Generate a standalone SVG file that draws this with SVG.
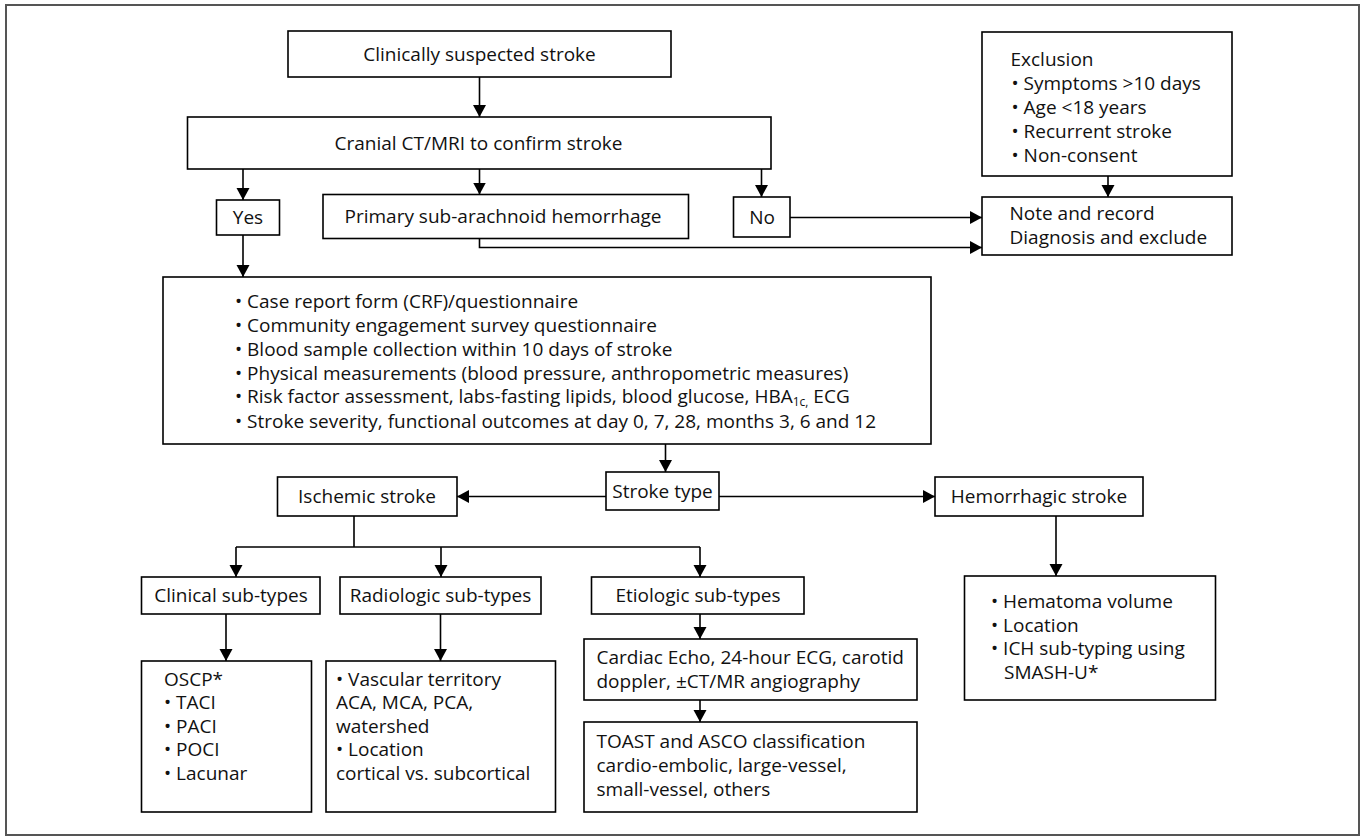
<svg xmlns="http://www.w3.org/2000/svg" width="1370" height="837" viewBox="0 0 1370 837">
<defs>
<style>
.box{fill:#fff;stroke:#000;stroke-width:1.6}
.t{font-family:'Open Sans','Noto Sans',sans-serif;font-size:19px;fill:#111}
.c{text-anchor:middle}
.ln{stroke:#000;stroke-width:1.6;fill:none}
.ar{stroke:#000;stroke-width:1.6;fill:none;marker-end:url(#ah)}
</style>
<marker id="ah" markerUnits="userSpaceOnUse" markerWidth="13" markerHeight="14" refX="12" refY="6.5" orient="auto">
<path d="M0,0 L12,6.5 L0,13 Z" fill="#000"/>
</marker>
</defs>
<rect x="0" y="0" width="1370" height="837" fill="#fff"/>
<rect id="frame" x="6" y="5" width="1353" height="830" fill="none" stroke="#555" stroke-width="2"/>

<g id="connectors">
<path class="ar" d="M479.5,77 V117"/>
<path class="ar" d="M243,169 V200"/>
<path class="ar" d="M479.5,169 V194.5"/>
<path class="ar" d="M761.5,169 V197"/>
<path class="ar" d="M243,235 V277"/>
<path class="ar" d="M790,217.5 H982"/>
<path class="ar" d="M479.5,238.5 V247.5 H982"/>
<path class="ar" d="M1108,176 V197"/>
<path class="ar" d="M665.5,444 V472"/>
<path class="ar" d="M606,496.5 H457"/>
<path class="ar" d="M719,496.5 H935"/>
<path class="ln" d="M354,516 V547 M236,547 H700"/>
<path class="ar" d="M236,547 V577"/>
<path class="ar" d="M441,547 V577"/>
<path class="ar" d="M700,547 V577"/>
<path class="ar" d="M226,614 V661"/>
<path class="ar" d="M440.5,614 V661"/>
<path class="ar" d="M700,614 V639"/>
<path class="ar" d="M700,700 V722"/>
<path class="ar" d="M1056,516 V576"/>
</g>

<g id="n-suspected">
<rect class="box" x="288" y="31" width="383" height="46"/>
<text class="t c" x="479.5" y="60.5">Clinically suspected stroke</text>
</g>
<g id="n-cranial">
<rect class="box" x="187.5" y="117" width="583.5" height="52"/>
<text class="t c" x="478.5" y="150">Cranial CT/MRI to confirm stroke</text>
</g>
<g id="n-yes">
<rect class="box" x="216.5" y="200" width="63" height="35"/>
<text class="t c" x="248" y="224">Yes</text>
</g>
<g id="n-sah">
<rect class="box" x="323" y="194.5" width="365.5" height="44"/>
<text class="t c" x="503" y="223">Primary sub-arachnoid hemorrhage</text>
</g>
<g id="n-no">
<rect class="box" x="733.5" y="197" width="56.5" height="40"/>
<text class="t c" x="762" y="224">No</text>
</g>
<g id="n-exclusion">
<rect class="box" x="982" y="32" width="250" height="144"/>
<text class="t" x="1010.5" y="66">Exclusion</text>
<text class="t" x="1011.5" y="90">• Symptoms &gt;10 days</text>
<text class="t" x="1011.5" y="114">• Age &lt;18 years</text>
<text class="t" x="1011.5" y="138">• Recurrent stroke</text>
<text class="t" x="1011.5" y="162">• Non-consent</text>
</g>
<g id="n-note">
<rect class="box" x="982" y="197" width="250" height="58"/>
<text class="t" x="1009.5" y="220">Note and record</text>
<text class="t" x="1009.5" y="244">Diagnosis and exclude</text>
</g>
<g id="n-main">
<rect class="box" x="163" y="277" width="768" height="167"/>
<text class="t" x="235" y="307.5">• Case report form (CRF)/questionnaire</text>
<text class="t" x="235" y="331.5">• Community engagement survey questionnaire</text>
<text class="t" x="235" y="355.5">• Blood sample collection within 10 days of stroke</text>
<text class="t" x="235" y="379.5">• Physical measurements (blood pressure, anthropometric measures)</text>
<text class="t" x="235" y="403">• Risk factor assessment, labs-fasting lipids, blood glucose, HBA<tspan font-size="12" dy="3">1c,</tspan><tspan dy="-3"> ECG</tspan></text>
<text class="t" x="235" y="428">• Stroke severity, functional outcomes at day 0, 7, 28, months 3, 6 and 12</text>
</g>
<g id="n-stroketype">
<rect class="box" x="606" y="472" width="113" height="38"/>
<text class="t c" x="662.5" y="497.5">Stroke type</text>
</g>
<g id="n-ischemic">
<rect class="box" x="277.5" y="477" width="179.5" height="39"/>
<text class="t c" x="367" y="503">Ischemic stroke</text>
</g>
<g id="n-hemorrhagic">
<rect class="box" x="935" y="477" width="208" height="39"/>
<text class="t c" x="1039" y="503">Hemorrhagic stroke</text>
</g>
<g id="n-clinical">
<rect class="box" x="141.5" y="577" width="178.5" height="37"/>
<text class="t c" x="231" y="602">Clinical sub-types</text>
</g>
<g id="n-radiologic">
<rect class="box" x="340" y="577" width="201" height="37"/>
<text class="t c" x="440.5" y="602">Radiologic sub-types</text>
</g>
<g id="n-etiologic">
<rect class="box" x="591.5" y="577" width="212.5" height="37"/>
<text class="t c" x="698" y="602">Etiologic sub-types</text>
</g>
<g id="n-oscp">
<rect class="box" x="141.5" y="661" width="170" height="151"/>
<text class="t" x="164" y="685.5">OSCP*</text>
<text class="t" x="164" y="709">• TACI</text>
<text class="t" x="164" y="732.5">• PACI</text>
<text class="t" x="164" y="756">• POCI</text>
<text class="t" x="164" y="779.5">• Lacunar</text>
</g>
<g id="n-radio-detail">
<rect class="box" x="326" y="661" width="229.5" height="151"/>
<text class="t" x="336" y="685.5">• Vascular territory</text>
<text class="t" x="336" y="709">ACA, MCA, PCA,</text>
<text class="t" x="336" y="732.5">watershed</text>
<text class="t" x="336" y="756">• Location</text>
<text class="t" x="336" y="779.5">cortical vs. subcortical</text>
</g>
<g id="n-cardiac">
<rect class="box" x="584" y="639" width="333" height="61"/>
<text class="t" x="596.5" y="664">Cardiac Echo, 24-hour ECG, carotid</text>
<text class="t" x="596.5" y="688">doppler, ±CT/MR angiography</text>
</g>
<g id="n-toast">
<rect class="box" x="584" y="722" width="333" height="90"/>
<text class="t" x="596.5" y="748">TOAST and ASCO classification</text>
<text class="t" x="596.5" y="772">cardio-embolic, large-vessel,</text>
<text class="t" x="596.5" y="796">small-vessel, others</text>
</g>
<g id="n-hematoma">
<rect class="box" x="964.5" y="576" width="251" height="124"/>
<text class="t" x="991" y="608">• Hematoma volume</text>
<text class="t" x="991" y="631.5">• Location</text>
<text class="t" x="991" y="655">• ICH sub-typing using</text>
<text class="t" x="1004" y="678.5">SMASH-U*</text>
</g>
</svg>
